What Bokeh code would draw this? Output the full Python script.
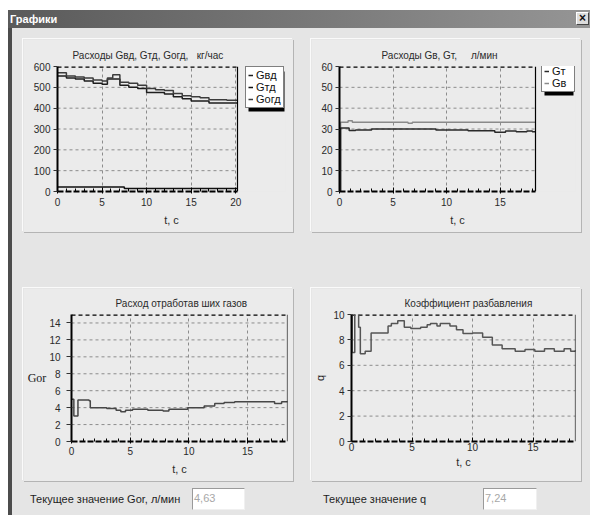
from bokeh.plotting import figure
from bokeh.models import Range1d, Legend, LegendItem, Div, Spacer, FixedTicker, Span, BoxAnnotation
from bokeh.layouts import column, row
from bokeh.embed import file_html
from bokeh.resources import INLINE

# ---------------- data ----------------
# Panel 1: Расходы Gвд, Gтд, Gогд, кг/час
t_p1 = [0, 1.0, 2.0, 3.0, 4.0, 5.0, 5.6, 6.2, 7.0, 8.0, 9.0, 10.0, 11.0, 12.0, 13.0, 14.0, 15.0, 16.0, 17.0, 18.0, 19.0, 20.2]
g_ogd = [570, 555, 550, 545, 535, 530, 545, 560, 525, 520, 510, 495, 488, 485, 470, 460, 455, 450, 440, 440, 438, 438]
g_vd = [555, 545, 540, 530, 520, 515, 540, 540, 510, 500, 495, 475, 475, 468, 455, 445, 435, 435, 425, 425, 425, 425]
t_gtd = [0, 7.5, 20.2]
g_td = [22, 15, 15]

# Panel 2: Расходы Gв, Gт, л/мин
t_gt = [0, 0.1, 0.9, 1.5, 3.0, 9.0, 12.0, 14.5, 15.5, 16.5, 17.5, 18.0, 18.3]
g_t = [0, 30.5, 29.3, 29.5, 30.0, 29.5, 29.2, 28.5, 29.0, 28.7, 29.0, 28.7, 28.7]
t_gv = [0, 0.1, 0.8, 1.2, 6.4, 6.8, 18.3]
g_v = [0, 33.2, 34.0, 33.3, 32.8, 33.3, 33.3]

# Panel 3: Расход отработавших газов
t_gor = [0, 0.2, 0.55, 1.5, 1.6, 3.0, 3.8, 4.2, 4.6, 5.2, 6.5, 7.8, 8.3, 9.9, 10.3, 11.3, 12.2, 13.0, 13.9, 15.5, 16.5, 17.3, 17.9, 18.4]
gor = [5.0, 3.0, 4.9, 4.8, 4.0, 3.9, 3.7, 3.5, 3.7, 3.8, 3.7, 3.6, 3.8, 4.0, 4.0, 4.2, 4.5, 4.6, 4.7, 4.7, 4.7, 4.5, 4.7, 4.63]

# Panel 4: Коэффициент разбавления
t_q = [0, 0.05, 0.27, 0.59, 0.73, 1.13, 1.62, 3.02, 3.29, 3.82, 4.36, 4.9, 5.71, 6.25, 6.52, 7.06, 7.33, 8.13,
       8.67, 9.21, 10.02, 10.83, 11.63, 12.44, 13.52, 14.33, 15.14, 15.94, 16.75, 17.56, 18.1, 18.5]
q = [12, 7.0, 12, 9.0, 6.9, 7.1, 8.55, 9.1, 9.3, 9.5, 9.0, 8.9, 9.0, 9.2, 9.3, 9.1, 9.3, 9.1,
     8.8, 8.5, 8.55, 8.2, 7.6, 7.3, 7.1, 7.25, 7.1, 7.3, 7.1, 7.3, 7.1, 7.2]

cur_gor = "4,63"
cur_q = "7,24"

FONT = "Liberation Sans"
PANEL = "#ebebeb"
DIALOG = "#e5e5e5"


def make_panel(xmax, ymax, xticks, yticks, title, t_off, borders, cfg, data_px=None):
    l, r, t, b = borders
    frame_w = 270 - l - r
    # the frame may extend to the right of the data area to host the legend
    x_end = xmax if data_px is None else xmax * frame_w / data_px
    p = figure(width=270, height=193, x_range=Range1d(0, x_end), y_range=Range1d(0, ymax),
               output_backend="svg", toolbar_location=None,
               min_border_left=l, min_border_right=r, min_border_top=t, min_border_bottom=b,
               background_fill_color=PANEL, border_fill_color=PANEL, outline_line_color=None,
               styles={"box-shadow": "1px 1px 0 #b4b4b4, -1px -1px 0 #fafafa"})
    p.title.text = title
    p.title.align = "left"
    p.title.offset = t_off
    p.title.text_font = FONT
    p.title.text_font_size = "10px"
    p.title.text_font_style = "normal"
    p.title.text_color = "#2a2a2a"
    p.title.standoff = cfg.get("title_standoff", 11)

    xa = p.xaxis[0]
    xa.bounds = (0, xmax)
    xa.ticker = FixedTicker(ticks=xticks, minor_ticks=list(range(0, int(xmax) + 1)))
    xa.axis_line_color = "black"
    xa.axis_line_width = 2
    xa.axis_line_dash = "6 2"
    xa.major_tick_line_color = "black"
    xa.major_tick_in = 4
    xa.major_tick_out = cfg.get("xtick_out", 2)
    xa.minor_tick_line_color = "black"
    xa.minor_tick_in = 3
    xa.minor_tick_out = 0
    xa.major_label_text_font = FONT
    xa.major_label_text_font_size = "10px"
    xa.major_label_text_color = "#2a2a2a"
    xa.major_label_standoff = cfg.get("xlab_standoff", 4)
    xa.axis_label = "t, с"
    xa.axis_label_text_font = FONT
    xa.axis_label_text_font_size = "11px"
    xa.axis_label_text_font_style = "normal"
    xa.axis_label_text_color = "#2a2a2a"
    xa.axis_label_standoff = cfg.get("xaxlab_standoff", 5)

    ya = p.yaxis[0]
    ya.ticker = FixedTicker(ticks=yticks)
    ya.axis_line_color = "black"
    ya.axis_line_width = 2
    ya.major_tick_line_color = "#333"
    ya.major_tick_in = 0
    ya.major_tick_out = cfg.get("ytick_out", 4)
    ya.minor_tick_line_color = None
    ya.major_label_text_font = FONT
    ya.major_label_text_font_size = "10px"
    ya.major_label_text_color = "#2a2a2a"
    ya.major_label_standoff = cfg.get("ylab_standoff", 3)

    p.xgrid.ticker = FixedTicker(ticks=[v for v in xticks if 0 < v < xmax])
    p.xgrid.grid_line_color = "#8c8c8c"
    p.xgrid.grid_line_dash = "3 3"
    p.ygrid.visible = False
    # horizontal grid lines limited to the data area
    inner = [v for v in yticks if 0 < v < ymax]
    p.segment(x0=[0] * len(inner), y0=inner, x1=[xmax] * len(inner), y1=inner,
              line_color="#8c8c8c", line_dash="3 3", line_width=1)
    # dashed top edge and solid right edge of the data area
    p.segment(x0=[0], y0=[ymax], x1=[xmax], y1=[ymax], line_color="black", line_dash="4 3", line_width=2.5)
    p.add_layout(Span(location=xmax, dimension="height", line_color="black", line_width=1.2))
    return p


def add_legend(p, items, box):
    x0, y0, w, h = box
    p.add_layout(BoxAnnotation(left=x0 + 3, right=x0 + w + 3, bottom=y0 - 3, top=y0 + h - 3,
                               left_units="screen", right_units="screen",
                               bottom_units="screen", top_units="screen",
                               fill_color="black", fill_alpha=1, line_color=None))
    leg = Legend(items=items, location=(x0, y0), orientation="vertical",
                 border_line_color="black", border_line_width=1,
                 background_fill_color="white", background_fill_alpha=1,
                 label_text_font=FONT, label_text_font_size="11px", label_text_color="#111",
                 label_height=12, glyph_height=12, glyph_width=5, label_standoff=3,
                 padding=2, spacing=0, margin=0)
    p.add_layout(leg)


# Panel 1
p1 = make_panel(20.2, 600, [0, 5, 10, 15, 20], [0, 100, 200, 300, 400, 500, 600],
                "Расходы Gвд, Gтд, Gогд,\u00a0\u00a0\u00a0кг/час", 15, (34, 8, 27, 41), {}, data_px=180)
r_vd = p1.step(t_p1, g_vd, mode="after", line_color="#1e1e1e", line_width=1.5)
r_td = p1.step(t_gtd, g_td, mode="after", line_color="#111111", line_width=1.5)
r_ogd = p1.step(t_p1, g_ogd, mode="after", line_color="#3c3c3c", line_width=1.5)
add_legend(p1, [LegendItem(label="Gвд", renderers=[r_vd]),
                LegendItem(label="Gтд", renderers=[r_td]),
                LegendItem(label="Gогд", renderers=[r_ogd])], (188, 83, 36, 40))

# Panel 2
p2 = make_panel(18.3, 60, [0, 5, 10, 15], [0, 10, 20, 30, 40, 50, 60],
                "Расходы Gв, Gт,\u00a0\u00a0\u00a0\u00a0\u00a0л/мин", 42, (28, 6, 27, 39), {}, data_px=196)
r_gv = p2.step(t_gv, g_v, mode="after", line_color="#8a8a8a", line_width=1.5)
r_gt = p2.step(t_gt, g_t, mode="after", line_color="#2a2a2a", line_width=1.5)
add_legend(p2, [LegendItem(label="Gт", renderers=[r_gt]),
                LegendItem(label="Gв", renderers=[r_gv])], (202, 99, 29, 27))

# Panel 3
p3 = make_panel(18.4, 15, [0, 5, 10, 15], [0, 2, 4, 6, 8, 10, 12, 14],
                "Расход отработав ших газов", 44, (48, 6, 26, 39),
                {"ytick_out": 5, "ylab_standoff": 6, "xlab_standoff": 3, "xaxlab_standoff": 5})
p3.step(t_gor, gor, mode="after", line_color="#474747", line_width=1.5)
p3.yaxis[0].axis_label = "Gor"
p3.yaxis[0].axis_label_orientation = "horizontal"
p3.yaxis[0].axis_label_text_font = "Liberation Serif"
p3.yaxis[0].axis_label_text_font_size = "12px"
p3.yaxis[0].axis_label_text_font_style = "normal"
p3.yaxis[0].axis_label_text_color = "#222"
p3.yaxis[0].axis_label_standoff = 0

# Panel 4
p4 = make_panel(18.5, 10, [0, 5, 10, 15], [0, 2, 4, 6, 8, 10],
                "Коэффициент разбавления", 53, (35, 6, 26, 40),
                {"xtick_out": 0, "xlab_standoff": 1, "xaxlab_standoff": 2})
p4.step(t_q, q, mode="after", line_color="#555555", line_width=1.5)
p4.yaxis[0].axis_label = "q"
p4.yaxis[0].axis_label_text_font = FONT
p4.yaxis[0].axis_label_text_font_size = "11px"
p4.yaxis[0].axis_label_text_font_style = "normal"
p4.yaxis[0].axis_label_text_color = "#222"
p4.yaxis[0].axis_label_standoff = 4

# ---------------- dialog chrome ----------------
title_bar = Div(width=582, height=18, margin=0, text=(
    '<div style="box-sizing:border-box;width:582px;height:18px;position:relative;'
    'background:linear-gradient(to right,#5a5a5a,#959595);color:#fff;font-family:\'Liberation Sans\';'
    'font-weight:bold;font-size:11px;line-height:18px;padding-left:2px">Графики'
    '<div style="position:absolute;right:1px;top:2px;width:13px;height:13px;background:#dcdcdc;'
    'border:1px solid #fff;border-right-color:#444;border-bottom-color:#444;box-sizing:border-box;'
    'color:#111;font-size:12px;line-height:10px;text-align:center;font-weight:bold">×</div></div>'))

LBL = "font-family:'Liberation Sans';font-size:11px;color:#1e1e1e;line-height:22px;white-space:nowrap"
BOX = ("box-sizing:border-box;height:22px;background:#fff;border:1px solid #9a9a9a;"
       "border-right-color:#f0f0f0;border-bottom-color:#f0f0f0;font-family:'Liberation Sans';"
       "font-size:11px;color:#a8a8a8;line-height:19px;padding-left:1px")

lab1 = Div(width=162, height=22, margin=0, text=f'<div style="{LBL}">Текущее значение Gor, л/мин</div>')
box1 = Div(width=53, height=22, margin=0, text=f'<div style="{BOX};width:53px">{cur_gor}</div>')
lab2 = Div(width=160, height=22, margin=0, text=f'<div style="{LBL}">Текущее значение q</div>')
box2 = Div(width=54, height=22, margin=0, text=f'<div style="{BOX};width:54px">{cur_q}</div>')

row1 = row(Spacer(width=11, height=193), p1, Spacer(width=18, height=193), p2, Spacer(width=9, height=193))
row2 = row(Spacer(width=11, height=193), p3, Spacer(width=18, height=193), p4, Spacer(width=9, height=193))
row3 = row(Spacer(width=18, height=22), lab1, box1, Spacer(width=78, height=22), lab2, box2)

body = column(Spacer(width=578, height=11), row1, Spacer(width=578, height=56), row2,
              Spacer(width=578, height=7), row3, Spacer(width=578, height=5))
border = Spacer(width=4, height=487, styles={"background-color": "#4c4c4c"})
main = row(border, body, styles={"background-color": DIALOG})

dialog = column(title_bar, main)
layout = column(Spacer(width=590, height=10), row(Spacer(width=8, height=505), dialog))

open("out.html", "w").write(file_html(layout, INLINE))
